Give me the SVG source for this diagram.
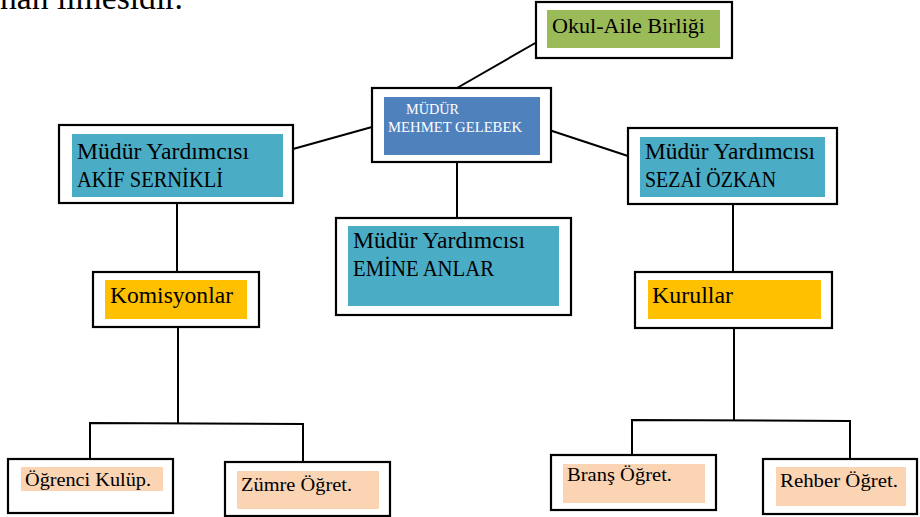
<svg xmlns="http://www.w3.org/2000/svg" width="920" height="517" viewBox="0 0 920 517">
<style>
.frame{fill:#fff;stroke:#000;stroke-width:2.2}
.teal{fill:#4BACC6}
.gold{fill:#FFC000}
.peach{fill:#FBD4B4}
.t{font-family:"Liberation Serif","DejaVu Serif",serif;fill:#000}
.big{font-size:22.5px}
.sm{font-size:19px}
.w{font-family:"Liberation Serif","DejaVu Serif",serif;font-size:14px;fill:#fff}
.conn{stroke:#000;stroke-width:2;fill:none}
</style>
<rect width="920" height="517" fill="#fff"/>
<text x="0" y="9" class="t" font-size="33" textLength="183" lengthAdjust="spacingAndGlyphs">nan ilmesidir.</text>
<g id="connectors">
<line class="conn" x1="457" y1="88" x2="544" y2="38"/>
<line class="conn" x1="293" y1="149" x2="372" y2="127"/>
<line class="conn" x1="537" y1="126" x2="628" y2="156"/>
<line class="conn" x1="457" y1="162" x2="457" y2="218"/>
<line class="conn" x1="177" y1="203" x2="177" y2="272"/>
<line class="conn" x1="733" y1="204" x2="733" y2="272"/>
<line class="conn" x1="178" y1="327" x2="178" y2="424"/>
<polyline class="conn" points="90,459 90,423 303,424 303,462"/>
<line class="conn" x1="734" y1="328" x2="734" y2="420"/>
<polyline class="conn" points="632,456 632,420 850,421 850,459"/>
</g>
<g id="okul-aile">
<rect class="frame" x="536" y="2" width="196" height="56"/>
<rect x="547" y="10" width="173" height="38" fill="#9BBB59"/>
<text x="552" y="33" class="t" font-size="22" textLength="153" lengthAdjust="spacingAndGlyphs">Okul-Aile Birliği</text>
</g>
<g id="mudur">
<rect class="frame" x="372" y="88" width="179" height="74"/>
<rect x="384" y="97" width="156" height="58" fill="#4F81BD"/>
<text x="406" y="114" class="w" textLength="53" lengthAdjust="spacingAndGlyphs">MÜDÜR</text>
<text x="388" y="132" class="w" textLength="134" lengthAdjust="spacingAndGlyphs">MEHMET GELEBEK</text>
</g>
<g id="akif">
<rect class="frame" x="59" y="125" width="234" height="78"/>
<rect class="teal" x="72" y="134" width="211" height="63"/>
<text x="77" y="159" class="t big" textLength="172" lengthAdjust="spacingAndGlyphs">Müdür Yardımcısı</text>
<text x="77" y="187" class="t big" textLength="146" lengthAdjust="spacingAndGlyphs">AKİF SERNİKLİ</text>
</g>
<g id="sezai">
<rect class="frame" x="628" y="128" width="209" height="76"/>
<rect class="teal" x="640" y="137" width="185" height="60"/>
<text x="645" y="159" class="t big" textLength="170" lengthAdjust="spacingAndGlyphs">Müdür Yardımcısı</text>
<text x="645" y="187" class="t big" textLength="131" lengthAdjust="spacingAndGlyphs">SEZAİ ÖZKAN</text>
</g>
<g id="emine">
<rect class="frame" x="336" y="218" width="235" height="97"/>
<rect class="teal" x="348" y="226" width="211" height="80"/>
<text x="353" y="248" class="t big" textLength="172" lengthAdjust="spacingAndGlyphs">Müdür Yardımcısı</text>
<text x="353" y="276" class="t big" textLength="141" lengthAdjust="spacingAndGlyphs">EMİNE ANLAR</text>
</g>
<g id="komisyonlar">
<rect class="frame" x="93" y="272" width="166" height="55"/>
<rect class="gold" x="105" y="280" width="142" height="39"/>
<text x="110" y="303" class="t big" textLength="123" lengthAdjust="spacingAndGlyphs">Komisyonlar</text>
</g>
<g id="kurullar">
<rect class="frame" x="635" y="272" width="197" height="56"/>
<rect class="gold" x="648" y="280" width="173" height="39"/>
<text x="652" y="303" class="t big" textLength="81" lengthAdjust="spacingAndGlyphs">Kurullar</text>
</g>
<g id="ogrenci">
<rect class="frame" x="8" y="459" width="165" height="54"/>
<rect class="peach" x="21" y="467" width="142" height="24"/>
<text x="25" y="486" class="t sm" textLength="126" lengthAdjust="spacingAndGlyphs">Öğrenci Kulüp.</text>
</g>
<g id="zumre">
<rect class="frame" x="225" y="462" width="165" height="54"/>
<rect class="peach" x="237" y="471" width="142" height="38"/>
<text x="241" y="491" class="t sm" textLength="111" lengthAdjust="spacingAndGlyphs">Zümre Öğret.</text>
</g>
<g id="brans">
<rect class="frame" x="551" y="455" width="165" height="55"/>
<rect class="peach" x="563" y="464" width="142" height="39"/>
<text x="567" y="481" class="t sm" textLength="105" lengthAdjust="spacingAndGlyphs">Branş Öğret.</text>
</g>
<g id="rehber">
<rect class="frame" x="763" y="459" width="154" height="55"/>
<rect class="peach" x="776" y="467" width="130" height="39"/>
<text x="780" y="487" class="t sm" textLength="118" lengthAdjust="spacingAndGlyphs">Rehber Öğret.</text>
</g>
</svg>
